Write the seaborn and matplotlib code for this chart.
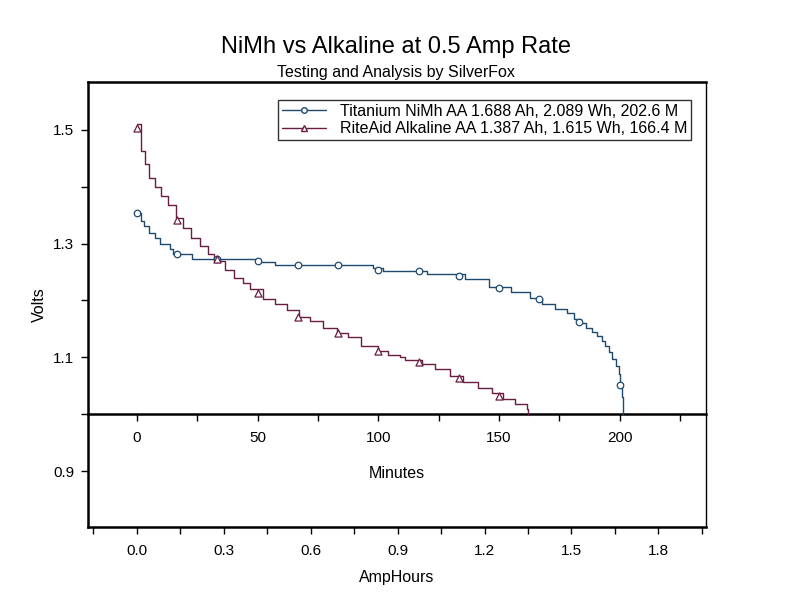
import numpy as np
import pandas as pd
import matplotlib
matplotlib.use("Agg")
import matplotlib.pyplot as plt
from matplotlib.lines import Line2D
from matplotlib.ticker import MultipleLocator, FuncFormatter
import seaborn as sns

# discharge curves (minutes, volts)
nimh_min = [0, 1.5, 3, 5, 7.5, 9.5, 13.5, 15, 23, 50, 57, 98, 102, 120, 136, 146,
            155, 163, 168, 173, 178, 181, 184, 186, 188.5, 190.5, 192.5, 194,
            195.5, 197, 198.5, 199.5, 200.2, 200.8, 201.4]
nimh_v = [1.353, 1.34, 1.33, 1.318, 1.31, 1.30, 1.29, 1.282, 1.272, 1.268, 1.263,
          1.257, 1.251, 1.246, 1.238, 1.223, 1.215, 1.205, 1.193, 1.185, 1.178,
          1.168, 1.16, 1.152, 1.145, 1.137, 1.128, 1.12, 1.11, 1.098, 1.085,
          1.07, 1.05, 1.03, 1.0]

alk_min = [0, 1.8, 3.2, 5.2, 7.3, 10, 12.8, 16.3, 19, 22.5, 26, 29.4, 32, 36.3,
           40.4, 43.9, 47, 52.3, 57, 62, 67, 71.6, 77, 83, 87.5, 93, 100, 104,
           109, 111, 118, 123.4, 129.6, 135, 141.3, 146.9, 151.7, 156.5, 161.4, 162]
alk_v = [1.51, 1.462, 1.44, 1.415, 1.40, 1.383, 1.368, 1.345, 1.327, 1.31, 1.295,
         1.281, 1.27, 1.254, 1.24, 1.23, 1.22, 1.202, 1.193, 1.184, 1.171, 1.164,
         1.152, 1.142, 1.135, 1.12, 1.112, 1.105, 1.100, 1.096, 1.089, 1.079,
         1.067, 1.056, 1.047, 1.038, 1.026, 1.018, 1.009, 0.999]

# marker points
nimh_mk_min = [0, 16.7, 33.3, 50, 66.7, 83.3, 100, 116.7, 133.3, 150, 166.7, 183.3, 200]
nimh_mk_v = [1.353, 1.282, 1.272, 1.270, 1.262, 1.262, 1.254, 1.251, 1.243,
             1.222, 1.202, 1.162, 1.051]
alk_mk_min = [0, 16.7, 33.3, 50, 66.7, 83.3, 100, 116.7, 133.3, 150]
alk_mk_v = [1.503, 1.342, 1.272, 1.213, 1.171, 1.142, 1.112, 1.091, 1.063, 1.032]

labels = ["Titanium NiMh AA 1.688 Ah, 2.089 Wh, 202.6 M",
          "RiteAid Alkaline AA 1.387 Ah, 1.615 Wh, 166.4 M"]
colors = ["#1d4a6e", "#6a1d42"]

minutes_per_ah = 120  # 0.5 A rate

sns.set_style("ticks")
plt.rcParams['font.family'] = ['Liberation Sans', 'DejaVu Sans']
plt.rcParams.update({'text.color': 'black', 'axes.labelcolor': 'black',
                     'axes.edgecolor': 'black', 'xtick.color': 'black',
                     'ytick.color': 'black'})

fig = plt.figure(figsize=(7.92, 6.11), dpi=100)
ax = fig.add_axes([0.111, 0.1375, 0.78, 0.7285])

nimh = pd.DataFrame({'min': nimh_min, 'v': nimh_v})
alk = pd.DataFrame({'min': alk_min, 'v': alk_v})
sns.lineplot(data=nimh, x='min', y='v', color=colors[0], lw=1, drawstyle='steps-post',
             estimator=None, sort=False, ax=ax)
sns.lineplot(data=alk, x='min', y='v', color=colors[1], lw=1, drawstyle='steps-post',
             estimator=None, sort=False, ax=ax)
sns.scatterplot(x=nimh_mk_min, y=nimh_mk_v, marker='o', s=22, facecolor='white',
                edgecolor=colors[0], linewidth=0.9, zorder=3, ax=ax)
sns.scatterplot(x=alk_mk_min, y=alk_mk_v, marker='^', s=26, facecolor='white',
                edgecolor=colors[1], linewidth=0.9, zorder=3, ax=ax)

ymin, ymax = 0.802, 1.584
ax.set_xlim(-20.3, 235.6)
ax.set_ylim(ymin, ymax)

# bottom axis in AmpHours
ax.xaxis.set_major_locator(MultipleLocator(0.3 * minutes_per_ah))
ax.xaxis.set_minor_locator(MultipleLocator(0.15 * minutes_per_ah))
ax.xaxis.set_major_formatter(FuncFormatter(lambda m, p: f"{m / minutes_per_ah:.1f}"))
ax.set_xlabel("AmpHours", fontsize=11.5, labelpad=9)

ax.yaxis.set_major_locator(MultipleLocator(0.2))
ax.yaxis.set_minor_locator(MultipleLocator(0.1))
ax.yaxis.set_major_formatter(FuncFormatter(lambda v, p: f"{v:.1f}"))
ax.set_ylabel("Volts", fontsize=11.5, labelpad=4)
ax.set_yticks([0.9, 1.1, 1.3, 1.5])

ax.tick_params(axis='both', which='both', direction='out', length=5, width=1,
               labelsize=11, pad=7, colors='black')
ax.tick_params(axis='y', pad=5)
for side in ['left', 'top', 'bottom']:
    ax.spines[side].set_linewidth(1.8)
ax.spines['right'].set_visible(True)
ax.spines['right'].set_linewidth(1.0)
ax.spines['top'].set_visible(True)

# minutes axis along 1.0 V
frac = (1.0 - ymin) / (ymax - ymin)
sec = ax.secondary_xaxis(frac)
sec.xaxis.set_major_locator(MultipleLocator(50))
sec.xaxis.set_minor_locator(MultipleLocator(25))
sec.tick_params(axis='x', which='both', direction='out', length=5, width=1,
                labelsize=11, pad=7, colors='black')
for s in sec.spines.values():
    s.set_linewidth(1.8)
    s.set_edgecolor('black')
sec.set_xlabel("Minutes", fontsize=11.5, labelpad=15)

handles = [Line2D([], [], color=colors[0], lw=1, marker='o', markersize=4,
                  markerfacecolor='white', markeredgecolor=colors[0]),
           Line2D([], [], color=colors[1], lw=1, marker='^', markersize=4,
                  markerfacecolor='white', markeredgecolor=colors[1])]
leg = ax.legend(handles, labels, loc='upper right', bbox_to_anchor=(0.977, 0.9596),
                borderaxespad=0, fancybox=False, frameon=True, fontsize=11.5,
                handlelength=2.7, handletextpad=0.9, labelspacing=0.15, borderpad=0.25)
leg.get_frame().set_edgecolor('black')
leg.get_frame().set_linewidth(1.0)

fig.text(0.5, 1 - 47 / 611, "NiMh vs Alkaline at 0.5 Amp Rate", ha='center',
         va='center', fontsize=17)
fig.text(0.5, 1 - 73 / 611, "Testing and Analysis by SilverFox", ha='center',
         va='center', fontsize=11.5)

plt.savefig("out.png", dpi=100)
